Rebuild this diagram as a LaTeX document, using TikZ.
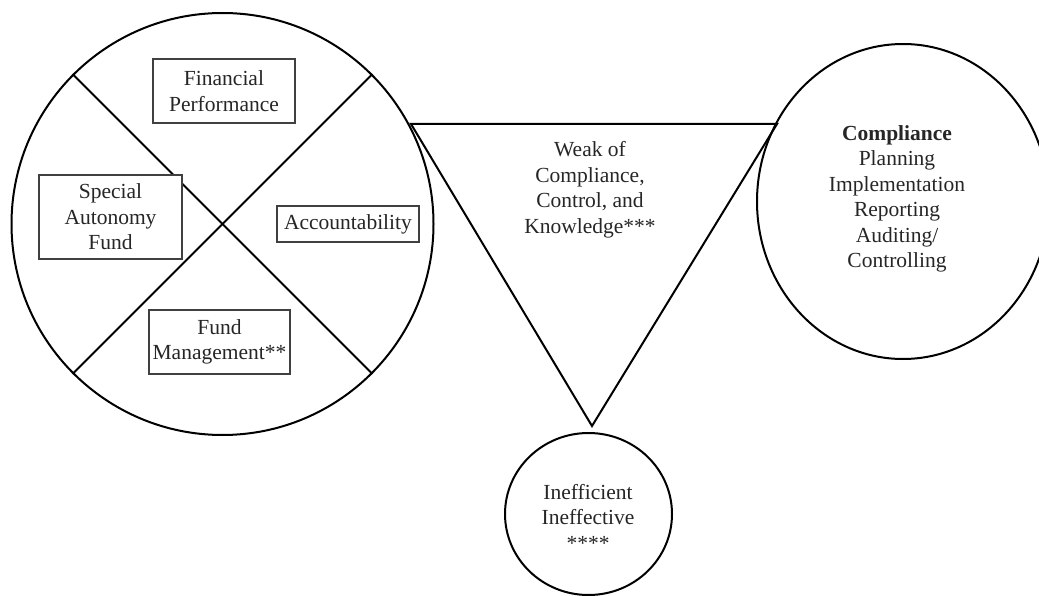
\documentclass[tikz,border=0pt]{standalone}
\usepackage{fontspec}
\setmainfont{Liberation Serif}
\usetikzlibrary{shapes.geometric}
\tikzset{
  ring/.style={draw=black, line width=2pt, inner sep=0pt, align=center, text=black!85},
  labelbox/.style={draw=black!75, line width=1.2pt, fill=white, inner sep=0pt, align=center, text=black!85},
  divider/.style={draw=black, line width=2pt},
  txt/.style={align=center, text=black!85, inner sep=0pt}
}
\begin{document}
\begin{tikzpicture}[x=1pt,y=-1pt,font=\fontsize{21.5}{25.5}\selectfont]
\useasboundingbox (0,0) rectangle (1039,596);
\clip (0,0) rectangle (1039,596);
% left big circle
\node[ring, circle, minimum size=422pt] (L) at (222.5,224) {};
\draw[divider] (L.north west) -- (L.south east);
\draw[divider] (L.north east) -- (L.south west);
% boxes
\node[labelbox, minimum width=142pt, minimum height=64pt] (fp) at (224,91) {Financial\\Performance};
\node[labelbox, minimum width=143pt, minimum height=84pt] (sa) at (110.5,217) {Special\\Autonomy\\Fund};
\node[labelbox, minimum width=142pt, minimum height=36pt] (ac) at (348,224) {Accountability};
\node[labelbox, minimum width=141pt, minimum height=64pt] (fm) at (219.5,342) {Fund\\Management**};
% right circle
\node[ring, ellipse, minimum width=292pt, minimum height=315pt] (R) at (903,201.5) {};
\node[txt] (rt) at (897,199) {\textbf{Compliance}\\Planning\\Implementation\\Reporting\\Auditing/\\Controlling};
% bottom circle
\node[ring, ellipse, minimum width=167pt, minimum height=162pt] (B) at (588.5,514) {};
\node[txt] (bt) at (588,517) {Inefficient\\Ineffective\\****};
% triangle
\coordinate (t1) at (411,124);
\coordinate (t2) at (777,124);
\coordinate (t3) at (592,426);
\draw[line width=2pt, line join=miter] (t1) -- (t2) -- (t3) -- cycle;
\node[txt] (wt) at (590,190) {Weak of\\Compliance,\\Control, and\\Knowledge***};
\end{tikzpicture}
\end{document}
